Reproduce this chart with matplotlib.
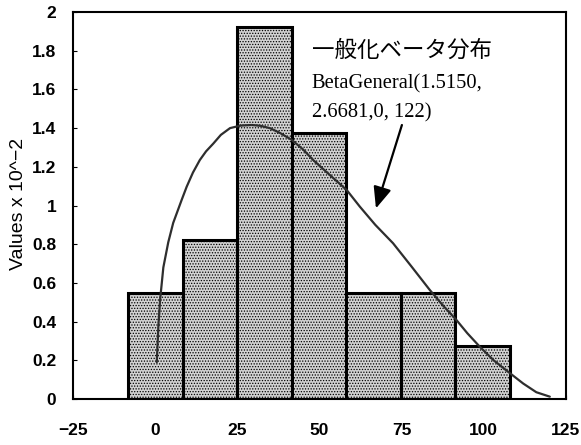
import matplotlib
matplotlib.use("Agg")
import matplotlib.pyplot as plt
import numpy as np

# histogram bins (edges) and densities (x 10^-2)
bin_edges = [-8.2, 8.4, 25.0, 41.6, 58.2, 74.8, 91.4, 108.0]
bar_heights = [0.549, 0.824, 1.923, 1.374, 0.549, 0.549, 0.275]

# fitted BetaGeneral curve
curve_x = [0.5, 1.0, 1.5, 2.5, 4.0, 5.5, 8.1, 9.6, 11.5, 13.6, 15.5, 17.7, 20.0,
           22.8, 26.0, 29.4, 32.0, 34.9, 38.0, 41.5, 45.0, 48.1, 53.0, 58.3,
           62.3, 67.0, 72.4, 78.0, 83.6, 87.5, 91.7, 95.0, 98.8, 103.0, 108.0,
           112.0, 116.0, 120.1]
curve_y = [0.19, 0.38, 0.51, 0.68, 0.81, 0.91, 1.03, 1.097, 1.17, 1.235, 1.28,
           1.32, 1.365, 1.40, 1.413, 1.416, 1.412, 1.40, 1.375, 1.34, 1.29,
           1.235, 1.16, 1.08, 0.994, 0.90, 0.805, 0.685, 0.563, 0.485, 0.408,
           0.34, 0.27, 0.20, 0.133, 0.08, 0.035, 0.012]

xticks = [-25, 0, 25, 50, 75, 100, 125]
yticks = [0, 0.2, 0.4, 0.6, 0.8, 1, 1.2, 1.4, 1.6, 1.8, 2]
ytick_labels = ["0", "0.2", "0.4", "0.6", "0.8", "1", "1.2", "1.4", "1.6", "1.8", "2"]

label_jp = "一般化ベータ分布"
label_l2 = "BetaGeneral(1.5150,"
label_l3 = "2.6681,0, 122)"

plt.rcParams["hatch.color"] = "#7a7a7a"
plt.rcParams["hatch.linewidth"] = 0.6

fig = plt.figure(figsize=(5.81, 4.45), dpi=100)
ax = fig.add_axes([0.1256, 0.1034, 0.8484, 0.8696])

lefts = np.array(bin_edges[:-1])
widths = np.diff(bin_edges)
ax.bar(lefts, bar_heights, width=widths, align="edge", color="#d2d2d2",
       edgecolor="black", linewidth=2.2, hatch="......", zorder=2)

ax.plot(curve_x, curve_y, color="#2e2e2e", linewidth=1.6, zorder=3,
        solid_capstyle="round")

ax.set_xlim(-25, 125)
ax.set_ylim(0, 2)
ax.set_xticks(xticks)
ax.set_yticks(yticks)
ax.set_yticklabels(ytick_labels)
ax.tick_params(direction="in", length=3, width=0.8, colors="black")
ax.tick_params(axis="x", pad=17)
ax.tick_params(axis="y", pad=12)
for lab in ax.get_xticklabels() + ax.get_yticklabels():
    lab.set_family("Liberation Sans")
    lab.set_fontweight("bold")
    lab.set_fontsize(12.5)
for s in ax.spines.values():
    s.set_linewidth(1.5)

ax.set_ylabel("Values x 10^−2", family="Liberation Sans", fontsize=14)
ax.yaxis.set_label_coords(-0.094, 0.504)

ax.text(47.6, 1.80, label_jp, family=["Noto Sans CJK JP", "DejaVu Sans"],
        fontsize=16.2, va="center", ha="left", zorder=4)
ax.text(47.6, 1.607, label_l2, family="Liberation Serif", fontsize=14.8,
        va="baseline", ha="left", zorder=4)
ax.text(47.6, 1.457, label_l3, family="Liberation Serif", fontsize=14.8,
        va="baseline", ha="left", zorder=4)

ax.annotate("", xy=(67.2, 0.985), xytext=(75.1, 1.416),
            arrowprops=dict(arrowstyle="-|>,head_length=1.3,head_width=0.55",
                            color="black", linewidth=1.6, shrinkA=0, shrinkB=0),
            zorder=4)

fig.savefig("out.png", dpi=100)
